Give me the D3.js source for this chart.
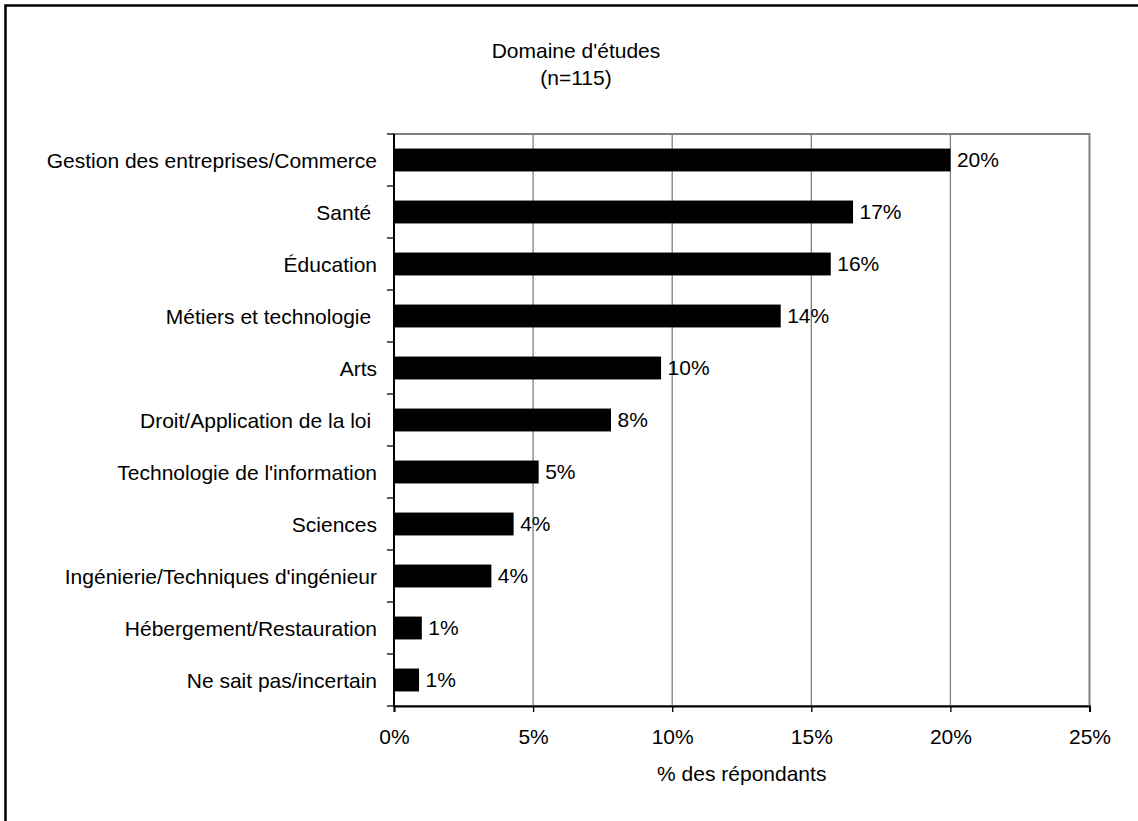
<!DOCTYPE html>
<html>
<head>
<meta charset="utf-8">
<script src="https://cdn.jsdelivr.net/npm/d3@7"></script>
<style>
  html, body { margin: 0; padding: 0; background: #fff; }
  svg { display: block; }
  text { font-family: "Liberation Sans", Arial, sans-serif; fill: #000; white-space: pre; }
</style>
</head>
<body>
<svg id="chart" width="1138" height="821"></svg>
<script>
// ---- data ----
const categories = [
  "Gestion des entreprises/Commerce",
  "Santé ",
  "Éducation",
  "Métiers et technologie ",
  "Arts",
  "Droit/Application de la loi ",
  "Technologie de l'information",
  "Sciences",
  "Ingénierie/Techniques d'ingénieur",
  "Hébergement/Restauration",
  "Ne sait pas/incertain"
];
const values = [20.0, 16.5, 15.7, 13.9, 9.6, 7.8, 5.2, 4.3, 3.5, 1.0, 0.9];
const xTicks = [0, 5, 10, 15, 20, 25];
const titleLines = ["Domaine d'études", "(n=115)"];
const xAxisTitle = "% des répondants";

// ---- layout ----
const svg = d3.select("#chart");
const plot = { left: 394, right: 1089.5, top: 134, bottom: 706 };
const fontSize = 21;

// outer frame (right/bottom edges fall outside the picture)
svg.append("rect")
  .attr("x", 5.5).attr("y", 5.5)
  .attr("width", 1200).attr("height", 900)
  .attr("fill", "none").attr("stroke", "#000").attr("stroke-width", 2.5);

const x = d3.scaleLinear().domain([0, 25]).range([plot.left, plot.right]);
const y = d3.scaleBand().domain(categories).range([plot.top, plot.bottom]).paddingInner(0.56).paddingOuter(0.28);

// title
svg.append("g").selectAll("text").data(titleLines).join("text")
  .attr("x", 576)
  .attr("y", (d, i) => 58 + i * 27)
  .attr("text-anchor", "middle")
  .attr("font-size", fontSize)
  .text(d => d);

// gridlines
svg.append("g").selectAll("line").data(xTicks.slice(1, -1)).join("line")
  .attr("x1", d => x(d)).attr("x2", d => x(d))
  .attr("y1", plot.top).attr("y2", plot.bottom)
  .attr("stroke", "#808080").attr("stroke-width", 1.3);

// plot border (gray)
svg.append("rect")
  .attr("x", plot.left).attr("y", plot.top)
  .attr("width", plot.right - plot.left).attr("height", plot.bottom - plot.top)
  .attr("fill", "none").attr("stroke", "#808080").attr("stroke-width", 2);

// bars
svg.append("g").selectAll("rect").data(values).join("rect")
  .attr("x", x(0))
  .attr("y", (d, i) => y(categories[i]))
  .attr("width", d => x(d) - x(0))
  .attr("height", y.bandwidth())
  .attr("fill", "#000");

// value labels
svg.append("g").selectAll("text").data(values).join("text")
  .attr("x", d => x(d) + 6.5)
  .attr("y", (d, i) => y(categories[i]) + y.bandwidth() / 2)
  .attr("dy", "0.33em")
  .attr("font-size", fontSize)
  .text(d => Math.round(d) + "%");

// y axis (ticks at category boundaries on the left)
const step = (plot.bottom - plot.top) / categories.length;
const yAxisG = svg.append("g");
yAxisG.append("line")
  .attr("x1", plot.left).attr("x2", plot.left)
  .attr("y1", plot.top).attr("y2", plot.bottom)
  .attr("stroke", "#000").attr("stroke-width", 2);
yAxisG.selectAll("line.tick").data(d3.range(categories.length + 1)).join("line")
  .attr("class", "tick")
  .attr("x1", plot.left - 7).attr("x2", plot.left)
  .attr("y1", i => plot.top + i * step).attr("y2", i => plot.top + i * step)
  .attr("stroke", "#000").attr("stroke-width", 1.3);
yAxisG.selectAll("text").data(categories).join("text")
  .attr("x", 377)
  .attr("y", d => y(d) + y.bandwidth() / 2)
  .attr("dy", "0.36em")
  .attr("text-anchor", "end")
  .attr("font-size", fontSize)
  .text(d => d);

// x axis
const xAxis = d3.axisBottom(x).tickValues(xTicks).tickSize(6).tickPadding(17)
  .tickFormat(d => d + "%");
const xg = svg.append("g").attr("transform", `translate(0,${plot.bottom})`).call(xAxis);
xg.select(".domain").attr("stroke", "#000").attr("stroke-width", 2);
xg.selectAll(".tick line").attr("stroke", "#000").attr("stroke-width", 1.3);
xg.selectAll(".tick text")
  .attr("font-size", fontSize)
  .attr("font-family", "'Liberation Sans', Arial, sans-serif")
  .attr("fill", "#000");

// x axis title
svg.append("text")
  .attr("x", (plot.left + plot.right) / 2)
  .attr("y", 781)
  .attr("text-anchor", "middle")
  .attr("font-size", fontSize)
  .text(xAxisTitle);
</script>
</body>
</html>
